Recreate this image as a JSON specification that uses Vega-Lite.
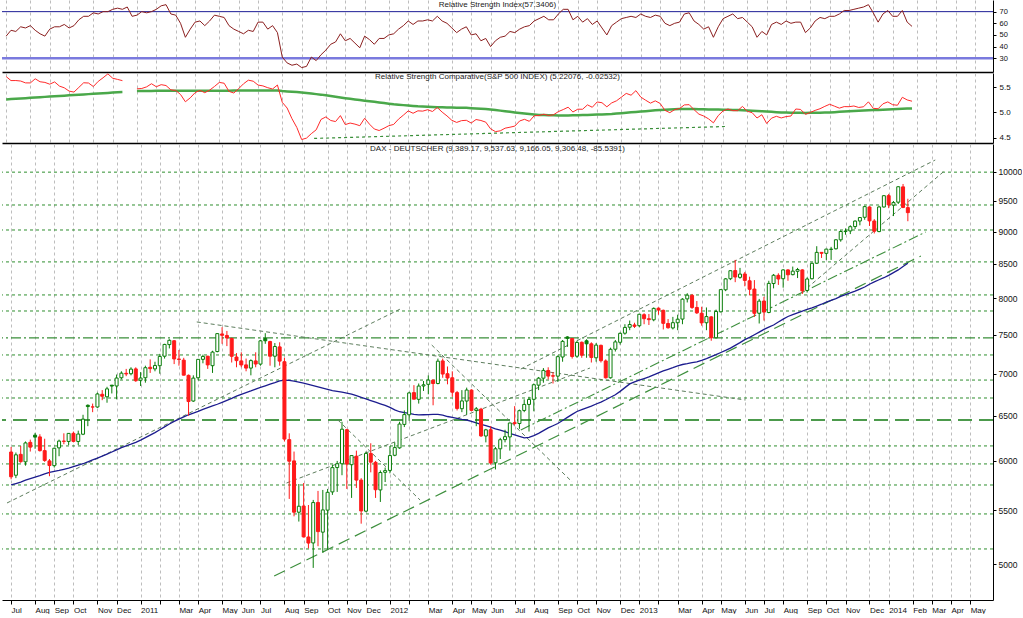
{
"$schema": "https://vega.github.io/schema/vega-lite/v6.json",
"padding": 0,
"spacing": 1,
"bounds": "flush",
"background": "white",
"config": {
 "view": {"stroke": null},
 "font": "Liberation Sans",
 "axis": {"labelFont": "Liberation Sans", "labelFontSize": 8.5, "labelColor": "#111", "domainColor": "#000", "tickColor": "#000", "labelOverlap": false, "tickCount": 1000},
 "axisX": {"labelFontSize": 8},
 "title": {"fontSize": 8, "fontWeight": "normal", "color": "#222", "font": "Liberation Sans", "anchor": "middle", "offset": -9}
},
"datasets": {
 "w": [
{"d":"2010-07-02","o":6095,"h":6150,"l":5808,"c":5834,"ma":5750,"rsi":49,"rs":5.705,"rsm":5.255},
{"d":"2010-07-09","o":5850,"h":6090,"l":5820,"c":6065,"ma":5765,"rsi":54,"rs":5.626,"rsm":5.262},
{"d":"2010-07-16","o":6070,"h":6160,"l":5980,"c":5992,"ma":5780,"rsi":53,"rs":5.627,"rsm":5.268},
{"d":"2010-07-23","o":5990,"h":6210,"l":5950,"c":6194,"ma":5800,"rsi":57,"rs":5.617,"rsm":5.274},
{"d":"2010-07-30","o":6200,"h":6230,"l":6100,"c":6148,"ma":5815,"rsi":56,"rs":5.581,"rsm":5.28},
{"d":"2010-08-06","o":6280,"h":6305,"l":6130,"c":6258,"ma":5830,"rsi":58,"rs":5.58,"rsm":5.287},
{"d":"2010-08-13","o":6260,"h":6290,"l":6100,"c":6110,"ma":5845,"rsi":54,"rs":5.661,"rsm":5.293},
{"d":"2010-08-20","o":6110,"h":6240,"l":5990,"c":6005,"ma":5865,"rsi":51,"rs":5.603,"rsm":5.3},
{"d":"2010-08-27","o":6000,"h":6020,"l":5840,"c":5951,"ma":5880,"rsi":49,"rs":5.59,"rsm":5.306},
{"d":"2010-09-03","o":5950,"h":6140,"l":5930,"c":6136,"ma":5890,"rsi":55,"rs":5.555,"rsm":5.312},
{"d":"2010-09-10","o":6140,"h":6230,"l":6050,"c":6214,"ma":5900,"rsi":57,"rs":5.6,"rsm":5.318},
{"d":"2010-09-17","o":6214,"h":6300,"l":6180,"c":6211,"ma":5912,"rsi":57,"rs":5.518,"rsm":5.324},
{"d":"2010-09-24","o":6210,"h":6300,"l":6170,"c":6299,"ma":5925,"rsi":59,"rs":5.484,"rsm":5.33},
{"d":"2010-10-01","o":6300,"h":6320,"l":6200,"c":6211,"ma":5940,"rsi":56,"rs":5.419,"rsm":5.336},
{"d":"2010-10-08","o":6210,"h":6330,"l":6170,"c":6292,"ma":5955,"rsi":58,"rs":5.4,"rsm":5.342},
{"d":"2010-10-15","o":6290,"h":6510,"l":6280,"c":6460,"ma":5970,"rsi":63,"rs":5.492,"rsm":5.348},
{"d":"2010-10-22","o":6620,"h":6630,"l":6380,"c":6605,"ma":5990,"rsi":66,"rs":5.583,"rsm":5.354},
{"d":"2010-10-29","o":6600,"h":6640,"l":6540,"c":6601,"ma":6010,"rsi":66,"rs":5.578,"rsm":5.36},
{"d":"2010-11-05","o":6600,"h":6770,"l":6590,"c":6754,"ma":6030,"rsi":69,"rs":5.509,"rsm":5.366},
{"d":"2010-11-12","o":6750,"h":6800,"l":6680,"c":6727,"ma":6050,"rsi":68,"rs":5.61,"rsm":5.372},
{"d":"2010-11-19","o":6720,"h":6840,"l":6650,"c":6815,"ma":6072,"rsi":70,"rs":5.681,"rsm":5.378},
{"d":"2010-11-26","o":6860,"h":6860,"l":6760,"c":6849,"ma":6095,"rsi":70,"rs":5.758,"rsm":5.384},
{"d":"2010-12-03","o":6850,"h":6990,"l":6690,"c":6947,"ma":6118,"rsi":72,"rs":5.672,"rsm":5.39},
{"d":"2010-12-10","o":6950,"h":7030,"l":6930,"c":7007,"ma":6142,"rsi":73,"rs":5.649,"rsm":5.396},
{"d":"2010-12-17","o":7005,"h":7060,"l":6970,"c":6997,"ma":6162,"rsi":72,"rs":5.625,"rsm":5.4},
{"d":"2010-12-24","o":7000,"h":7080,"l":6980,"c":7057,"ma":6180,"rsi":74,"rs":null,"rsm":null},
{"d":"2010-12-31","o":7060,"h":7080,"l":6900,"c":6914,"ma":6200,"rsi":66,"rs":null,"rsm":null},
{"d":"2011-01-07","o":6920,"h":7020,"l":6850,"c":6947,"ma":6225,"rsi":67,"rs":5.464,"rsm":5.42},
{"d":"2011-01-14","o":6950,"h":7100,"l":6890,"c":7075,"ma":6252,"rsi":70,"rs":5.471,"rsm":5.421},
{"d":"2011-01-21","o":7080,"h":7180,"l":7010,"c":7063,"ma":6280,"rsi":69,"rs":5.503,"rsm":5.422},
{"d":"2011-01-28","o":7060,"h":7150,"l":7030,"c":7102,"ma":6308,"rsi":70,"rs":5.564,"rsm":5.423},
{"d":"2011-02-04","o":7100,"h":7250,"l":7000,"c":7217,"ma":6340,"rsi":72,"rs":5.505,"rsm":5.424},
{"d":"2011-02-11","o":7220,"h":7380,"l":7190,"c":7372,"ma":6372,"rsi":75,"rs":5.546,"rsm":5.425},
{"d":"2011-02-18","o":7370,"h":7440,"l":7320,"c":7426,"ma":6405,"rsi":76,"rs":5.529,"rsm":5.426},
{"d":"2011-02-25","o":7420,"h":7430,"l":7120,"c":7185,"ma":6435,"rsi":68,"rs":5.444,"rsm":5.427},
{"d":"2011-03-04","o":7185,"h":7300,"l":7100,"c":7178,"ma":6460,"rsi":67,"rs":5.433,"rsm":5.428},
{"d":"2011-03-11","o":7170,"h":7200,"l":6980,"c":6982,"ma":6485,"rsi":60,"rs":5.353,"rsm":5.428},
{"d":"2011-03-18","o":6980,"h":6990,"l":6500,"c":6664,"ma":6510,"rsi":48,"rs":5.21,"rsm":5.428},
{"d":"2011-03-25","o":6670,"h":6980,"l":6660,"c":6946,"ma":6530,"rsi":55,"rs":5.287,"rsm":5.427},
{"d":"2011-04-01","o":6950,"h":7180,"l":6920,"c":7180,"ma":6550,"rsi":61,"rs":5.389,"rsm":5.426},
{"d":"2011-04-08","o":7180,"h":7240,"l":7130,"c":7217,"ma":6572,"rsi":62,"rs":5.434,"rsm":5.425},
{"d":"2011-04-15","o":7220,"h":7225,"l":7060,"c":7110,"ma":6592,"rsi":58,"rs":5.388,"rsm":5.424},
{"d":"2011-04-22","o":7100,"h":7290,"l":7010,"c":7273,"ma":6612,"rsi":62,"rs":5.438,"rsm":5.424},
{"d":"2011-04-29","o":7280,"h":7520,"l":7270,"c":7514,"ma":6632,"rsi":67,"rs":5.51,"rsm":5.425},
{"d":"2011-05-06","o":7510,"h":7600,"l":7380,"c":7492,"ma":6655,"rsi":66,"rs":5.59,"rsm":5.426},
{"d":"2011-05-13","o":7490,"h":7550,"l":7350,"c":7457,"ma":6678,"rsi":65,"rs":5.574,"rsm":5.427},
{"d":"2011-05-20","o":7450,"h":7460,"l":7140,"c":7219,"ma":6702,"rsi":58,"rs":5.414,"rsm":5.428},
{"d":"2011-05-27","o":7210,"h":7260,"l":7080,"c":7164,"ma":6728,"rsi":55,"rs":5.382,"rsm":5.429},
{"d":"2011-06-03","o":7160,"h":7270,"l":7080,"c":7109,"ma":6750,"rsi":53,"rs":5.468,"rsm":5.43},
{"d":"2011-06-10","o":7110,"h":7190,"l":7030,"c":7070,"ma":6770,"rsi":51,"rs":5.563,"rsm":5.43},
{"d":"2011-06-17","o":7070,"h":7180,"l":6980,"c":7164,"ma":6790,"rsi":54,"rs":5.634,"rsm":5.43},
{"d":"2011-06-24","o":7160,"h":7270,"l":7080,"c":7121,"ma":6812,"rsi":53,"rs":5.614,"rsm":5.43},
{"d":"2011-07-01","o":7120,"h":7430,"l":7100,"c":7419,"ma":6832,"rsi":61,"rs":5.538,"rsm":5.43},
{"d":"2011-07-08","o":7450,"h":7520,"l":7380,"c":7420,"ma":6852,"rsi":61,"rs":5.522,"rsm":5.43},
{"d":"2011-07-15","o":7410,"h":7420,"l":7100,"c":7220,"ma":6872,"rsi":55,"rs":5.486,"rsm":5.43},
{"d":"2011-07-22","o":7220,"h":7390,"l":7080,"c":7345,"ma":6890,"rsi":58,"rs":5.461,"rsm":5.43},
{"d":"2011-07-29","o":7340,"h":7400,"l":7100,"c":7158,"ma":6912,"rsi":52,"rs":5.539,"rsm":5.43},
{"d":"2011-08-05","o":7150,"h":7200,"l":6210,"c":6236,"ma":6922,"rsi":31,"rs":5.199,"rsm":5.42},
{"d":"2011-08-12","o":6230,"h":6300,"l":5610,"c":5997,"ma":6918,"rsi":26,"rs":5.087,"rsm":5.413},
{"d":"2011-08-19","o":6000,"h":6100,"l":5440,"c":5480,"ma":6908,"rsi":24,"rs":4.878,"rsm":5.407},
{"d":"2011-08-26","o":5480,"h":5760,"l":5390,"c":5538,"ma":6898,"rsi":25,"rs":4.706,"rsm":5.4},
{"d":"2011-09-02","o":5540,"h":5770,"l":5240,"c":5246,"ma":6885,"rsi":22,"rs":4.468,"rsm":5.39},
{"d":"2011-09-09","o":5245,"h":5550,"l":5140,"c":5189,"ma":6870,"rsi":23,"rs":4.496,"rsm":5.38},
{"d":"2011-09-16","o":5190,"h":5600,"l":4966,"c":5574,"ma":6855,"rsi":31,"rs":4.584,"rsm":5.37},
{"d":"2011-09-23","o":5575,"h":5690,"l":5160,"c":5295,"ma":6840,"rsi":28,"rs":4.659,"rsm":5.36},
{"d":"2011-09-30","o":5290,"h":5700,"l":5100,"c":5502,"ma":6825,"rsi":33,"rs":4.863,"rsm":5.35},
{"d":"2011-10-07","o":5500,"h":5710,"l":5130,"c":5676,"ma":6810,"rsi":37,"rs":4.912,"rsm":5.336},
{"d":"2011-10-14","o":5680,"h":5960,"l":5650,"c":5929,"ma":6795,"rsi":42,"rs":4.842,"rsm":5.322},
{"d":"2011-10-21","o":5930,"h":6000,"l":5680,"c":5970,"ma":6785,"rsi":44,"rs":4.821,"rsm":5.308},
{"d":"2011-10-28","o":5970,"h":6430,"l":5850,"c":6346,"ma":6775,"rsi":51,"rs":4.938,"rsm":5.294},
{"d":"2011-11-04","o":6340,"h":6350,"l":5710,"c":5966,"ma":6765,"rsi":45,"rs":4.761,"rsm":5.28},
{"d":"2011-11-11","o":5960,"h":6050,"l":5620,"c":6057,"ma":6752,"rsi":47,"rs":4.792,"rsm":5.268},
{"d":"2011-11-18","o":6050,"h":6110,"l":5720,"c":5800,"ma":6733,"rsi":43,"rs":4.771,"rsm":5.256},
{"d":"2011-11-25","o":5800,"h":5820,"l":5370,"c":5492,"ma":6714,"rsi":39,"rs":4.74,"rsm":5.244},
{"d":"2011-12-02","o":5490,"h":6100,"l":5480,"c":6080,"ma":6695,"rsi":49,"rs":4.886,"rsm":5.232},
{"d":"2011-12-09","o":6080,"h":6190,"l":5880,"c":5987,"ma":6676,"rsi":46,"rs":4.77,"rsm":5.22},
{"d":"2011-12-16","o":5985,"h":6000,"l":5620,"c":5702,"ma":6656,"rsi":42,"rs":4.675,"rsm":5.208},
{"d":"2011-12-23","o":5700,"h":5900,"l":5580,"c":5878,"ma":6637,"rsi":47,"rs":4.645,"rsm":5.196},
{"d":"2011-12-30","o":5880,"h":5930,"l":5780,"c":5898,"ma":6618,"rsi":47,"rs":4.69,"rsm":5.184},
{"d":"2012-01-06","o":5900,"h":6160,"l":5870,"c":6057,"ma":6595,"rsi":50,"rs":4.74,"rsm":5.172},
{"d":"2012-01-13","o":6060,"h":6200,"l":6050,"c":6143,"ma":6567,"rsi":51,"rs":4.765,"rsm":5.16},
{"d":"2012-01-20","o":6140,"h":6430,"l":6130,"c":6404,"ma":6545,"rsi":55,"rs":4.869,"rsm":5.152},
{"d":"2012-01-27","o":6400,"h":6560,"l":6370,"c":6512,"ma":6535,"rsi":58,"rs":4.947,"rsm":5.144},
{"d":"2012-02-03","o":6510,"h":6780,"l":6440,"c":6766,"ma":6525,"rsi":62,"rs":5.031,"rsm":5.136},
{"d":"2012-02-10","o":6770,"h":6860,"l":6690,"c":6692,"ma":6515,"rsi":59,"rs":4.984,"rsm":5.128},
{"d":"2012-02-17","o":6690,"h":6880,"l":6640,"c":6849,"ma":6508,"rsi":62,"rs":5.032,"rsm":5.12},
{"d":"2012-02-24","o":6850,"h":6910,"l":6790,"c":6864,"ma":6510,"rsi":62,"rs":5.026,"rsm":5.116},
{"d":"2012-03-02","o":6870,"h":6980,"l":6750,"c":6922,"ma":6512,"rsi":63,"rs":5.054,"rsm":5.112},
{"d":"2012-03-09","o":6920,"h":6930,"l":6620,"c":6880,"ma":6514,"rsi":62,"rs":5.019,"rsm":5.108},
{"d":"2012-03-16","o":6880,"h":7190,"l":6870,"c":7157,"ma":6515,"rsi":66,"rs":5.097,"rsm":5.104},
{"d":"2012-03-23","o":7160,"h":7190,"l":6950,"c":6996,"ma":6505,"rsi":62,"rs":5.007,"rsm":5.1},
{"d":"2012-03-30","o":7000,"h":7090,"l":6870,"c":6947,"ma":6490,"rsi":60,"rs":4.932,"rsm":5.098},
{"d":"2012-04-06","o":6950,"h":7030,"l":6720,"c":6775,"ma":6480,"rsi":56,"rs":4.846,"rsm":5.096},
{"d":"2012-04-13","o":6770,"h":6790,"l":6560,"c":6583,"ma":6468,"rsi":52,"rs":4.804,"rsm":5.094},
{"d":"2012-04-20","o":6580,"h":6800,"l":6540,"c":6671,"ma":6458,"rsi":55,"rs":4.839,"rsm":5.092},
{"d":"2012-04-27","o":6670,"h":6830,"l":6510,"c":6801,"ma":6450,"rsi":57,"rs":4.846,"rsm":5.09},
{"d":"2012-05-04","o":6800,"h":6810,"l":6550,"c":6561,"ma":6435,"rsi":50,"rs":4.792,"rsm":5.084},
{"d":"2012-05-11","o":6560,"h":6600,"l":6380,"c":6579,"ma":6418,"rsi":51,"rs":4.861,"rsm":5.078},
{"d":"2012-05-18","o":6575,"h":6590,"l":6260,"c":6271,"ma":6400,"rsi":45,"rs":4.842,"rsm":5.072},
{"d":"2012-05-25","o":6270,"h":6350,"l":6200,"c":6339,"ma":6385,"rsi":47,"rs":4.81,"rsm":5.066},
{"d":"2012-06-01","o":6340,"h":6380,"l":5960,"c":5978,"ma":6368,"rsi":40,"rs":4.678,"rsm":5.06},
{"d":"2012-06-08","o":5980,"h":6150,"l":5910,"c":6130,"ma":6350,"rsi":45,"rs":4.624,"rsm":5.048},
{"d":"2012-06-15","o":6130,"h":6250,"l":6020,"c":6229,"ma":6335,"rsi":48,"rs":4.639,"rsm":5.036},
{"d":"2012-06-22","o":6230,"h":6340,"l":6200,"c":6263,"ma":6318,"rsi":49,"rs":4.691,"rsm":5.024},
{"d":"2012-06-29","o":6260,"h":6420,"l":6110,"c":6416,"ma":6300,"rsi":53,"rs":4.71,"rsm":5.012},
{"d":"2012-07-06","o":6420,"h":6610,"l":6390,"c":6410,"ma":6282,"rsi":52,"rs":4.732,"rsm":5.0},
{"d":"2012-07-13","o":6410,"h":6570,"l":6350,"c":6557,"ma":6265,"rsi":55,"rs":4.833,"rsm":4.99},
{"d":"2012-07-20","o":6560,"h":6690,"l":6540,"c":6630,"ma":6250,"rsi":57,"rs":4.865,"rsm":4.98},
{"d":"2012-07-27","o":6630,"h":6720,"l":6320,"c":6689,"ma":6255,"rsi":58,"rs":4.826,"rsm":4.97},
{"d":"2012-08-03","o":6690,"h":6880,"l":6550,"c":6865,"ma":6275,"rsi":62,"rs":4.935,"rsm":4.96},
{"d":"2012-08-10","o":6860,"h":6960,"l":6800,"c":6945,"ma":6300,"rsi":64,"rs":4.94,"rsm":4.95},
{"d":"2012-08-17","o":6945,"h":7070,"l":6890,"c":7041,"ma":6330,"rsi":66,"rs":4.965,"rsm":4.948},
{"d":"2012-08-24","o":7040,"h":7080,"l":6930,"c":6971,"ma":6360,"rsi":63,"rs":4.94,"rsm":4.946},
{"d":"2012-08-31","o":6975,"h":7020,"l":6880,"c":6970,"ma":6385,"rsi":63,"rs":4.955,"rsm":4.944},
{"d":"2012-09-07","o":6970,"h":7230,"l":6900,"c":7214,"ma":6410,"rsi":68,"rs":5.017,"rsm":4.942},
{"d":"2012-09-14","o":7210,"h":7430,"l":7150,"c":7412,"ma":6445,"rsi":72,"rs":5.057,"rsm":4.94},
{"d":"2012-09-21","o":7470,"h":7480,"l":7340,"c":7451,"ma":6480,"rsi":72,"rs":5.103,"rsm":4.942},
{"d":"2012-09-28","o":7450,"h":7455,"l":7190,"c":7216,"ma":6515,"rsi":63,"rs":5.009,"rsm":4.944},
{"d":"2012-10-05","o":7220,"h":7420,"l":7200,"c":7398,"ma":6548,"rsi":66,"rs":5.064,"rsm":4.946},
{"d":"2012-10-12","o":7400,"h":7410,"l":7200,"c":7233,"ma":6570,"rsi":61,"rs":5.063,"rsm":4.948},
{"d":"2012-10-19","o":7420,"h":7440,"l":7200,"c":7380,"ma":6590,"rsi":64,"rs":5.149,"rsm":4.95},
{"d":"2012-10-26","o":7380,"h":7400,"l":7140,"c":7204,"ma":6610,"rsi":59,"rs":5.102,"rsm":4.954},
{"d":"2012-11-02","o":7200,"h":7390,"l":7150,"c":7363,"ma":6635,"rsi":62,"rs":5.206,"rsm":4.958},
{"d":"2012-11-09","o":7360,"h":7370,"l":7140,"c":7163,"ma":6658,"rsi":56,"rs":5.191,"rsm":4.962},
{"d":"2012-11-16","o":7160,"h":7180,"l":6940,"c":6950,"ma":6685,"rsi":50,"rs":5.111,"rsm":4.966},
{"d":"2012-11-23","o":6950,"h":7330,"l":6940,"c":7309,"ma":6715,"rsi":58,"rs":5.187,"rsm":4.97},
{"d":"2012-11-30","o":7310,"h":7430,"l":7280,"c":7405,"ma":6745,"rsi":61,"rs":5.229,"rsm":4.978},
{"d":"2012-12-07","o":7400,"h":7530,"l":7370,"c":7518,"ma":6785,"rsi":64,"rs":5.301,"rsm":4.986},
{"d":"2012-12-14","o":7520,"h":7640,"l":7500,"c":7597,"ma":6830,"rsi":65,"rs":5.374,"rsm":4.994},
{"d":"2012-12-21","o":7600,"h":7690,"l":7560,"c":7636,"ma":6875,"rsi":66,"rs":5.339,"rsm":5.002},
{"d":"2012-12-28","o":7630,"h":7660,"l":7590,"c":7612,"ma":6900,"rsi":65,"rs":5.428,"rsm":5.01},
{"d":"2013-01-04","o":7620,"h":7780,"l":7600,"c":7776,"ma":6920,"rsi":68,"rs":5.302,"rsm":5.018},
{"d":"2013-01-11","o":7770,"h":7790,"l":7640,"c":7715,"ma":6940,"rsi":66,"rs":5.241,"rsm":5.026},
{"d":"2013-01-18","o":7715,"h":7780,"l":7630,"c":7702,"ma":6960,"rsi":65,"rs":5.183,"rsm":5.034},
{"d":"2013-01-25","o":7700,"h":7870,"l":7680,"c":7857,"ma":6985,"rsi":67,"rs":5.228,"rsm":5.042},
{"d":"2013-02-01","o":7860,"h":7870,"l":7770,"c":7834,"ma":7010,"rsi":66,"rs":5.177,"rsm":5.05},
{"d":"2013-02-08","o":7830,"h":7840,"l":7570,"c":7652,"ma":7035,"rsi":60,"rs":5.041,"rsm":5.054},
{"d":"2013-02-15","o":7650,"h":7710,"l":7580,"c":7593,"ma":7055,"rsi":58,"rs":4.996,"rsm":5.058},
{"d":"2013-02-22","o":7590,"h":7740,"l":7570,"c":7661,"ma":7075,"rsi":60,"rs":5.055,"rsm":5.062},
{"d":"2013-03-01","o":7660,"h":7770,"l":7560,"c":7708,"ma":7098,"rsi":61,"rs":5.077,"rsm":5.066},
{"d":"2013-03-08","o":7710,"h":8000,"l":7640,"c":7986,"ma":7115,"rsi":68,"rs":5.148,"rsm":5.07},
{"d":"2013-03-15","o":7990,"h":8070,"l":7940,"c":8043,"ma":7125,"rsi":69,"rs":5.153,"rsm":5.068},
{"d":"2013-03-22","o":8040,"h":8060,"l":7850,"c":7870,"ma":7138,"rsi":62,"rs":5.055,"rsm":5.066},
{"d":"2013-03-29","o":7870,"h":7960,"l":7780,"c":7795,"ma":7148,"rsi":59,"rs":4.967,"rsm":5.064},
{"d":"2013-04-05","o":7790,"h":7880,"l":7620,"c":7658,"ma":7168,"rsi":55,"rs":4.93,"rsm":5.062},
{"d":"2013-04-12","o":7660,"h":7870,"l":7560,"c":7744,"ma":7190,"rsi":57,"rs":4.874,"rsm":5.06},
{"d":"2013-04-19","o":7740,"h":7750,"l":7420,"c":7459,"ma":7215,"rsi":48,"rs":4.796,"rsm":5.058},
{"d":"2013-04-26","o":7460,"h":7840,"l":7450,"c":7814,"ma":7240,"rsi":57,"rs":4.939,"rsm":5.056},
{"d":"2013-05-03","o":7810,"h":8130,"l":7800,"c":8122,"ma":7268,"rsi":64,"rs":5.031,"rsm":5.054},
{"d":"2013-05-10","o":8120,"h":8290,"l":8100,"c":8278,"ma":7295,"rsi":66,"rs":5.067,"rsm":5.052},
{"d":"2013-05-17","o":8280,"h":8400,"l":8260,"c":8398,"ma":7325,"rsi":68,"rs":5.036,"rsm":5.05},
{"d":"2013-05-24","o":8400,"h":8560,"l":8230,"c":8305,"ma":7360,"rsi":64,"rs":5.035,"rsm":5.046},
{"d":"2013-05-31","o":8300,"h":8440,"l":8280,"c":8348,"ma":7395,"rsi":65,"rs":5.119,"rsm":5.042},
{"d":"2013-06-07","o":8350,"h":8380,"l":8170,"c":8255,"ma":7435,"rsi":61,"rs":5.023,"rsm":5.038},
{"d":"2013-06-14","o":8250,"h":8310,"l":8040,"c":8127,"ma":7465,"rsi":57,"rs":4.996,"rsm":5.034},
{"d":"2013-06-21","o":8130,"h":8260,"l":7740,"c":7789,"ma":7500,"rsi":48,"rs":4.891,"rsm":5.03},
{"d":"2013-06-28","o":7790,"h":7990,"l":7650,"c":7959,"ma":7535,"rsi":53,"rs":4.955,"rsm":5.024},
{"d":"2013-07-05","o":7960,"h":8020,"l":7690,"c":7806,"ma":7570,"rsi":50,"rs":4.783,"rsm":5.018},
{"d":"2013-07-12","o":7800,"h":8250,"l":7790,"c":8212,"ma":7600,"rsi":59,"rs":4.888,"rsm":5.012},
{"d":"2013-07-19","o":8210,"h":8350,"l":8140,"c":8331,"ma":7630,"rsi":61,"rs":4.924,"rsm":5.006},
{"d":"2013-07-26","o":8330,"h":8360,"l":8190,"c":8276,"ma":7670,"rsi":59,"rs":4.892,"rsm":5.0},
{"d":"2013-08-02","o":8280,"h":8420,"l":8150,"c":8410,"ma":7710,"rsi":62,"rs":4.919,"rsm":4.998},
{"d":"2013-08-09","o":8410,"h":8420,"l":8250,"c":8338,"ma":7745,"rsi":60,"rs":4.93,"rsm":4.996},
{"d":"2013-08-16","o":8340,"h":8460,"l":8330,"c":8392,"ma":7770,"rsi":61,"rs":5.068,"rsm":4.994},
{"d":"2013-08-23","o":8390,"h":8440,"l":8290,"c":8416,"ma":7795,"rsi":61,"rs":5.059,"rsm":4.992},
{"d":"2013-08-30","o":8410,"h":8420,"l":8060,"c":8104,"ma":7820,"rsi":52,"rs":4.963,"rsm":4.99},
{"d":"2013-09-06","o":8110,"h":8300,"l":8080,"c":8276,"ma":7845,"rsi":56,"rs":5.0,"rsm":4.992},
{"d":"2013-09-13","o":8280,"h":8520,"l":8270,"c":8509,"ma":7865,"rsi":62,"rs":5.041,"rsm":4.994},
{"d":"2013-09-20","o":8510,"h":8770,"l":8500,"c":8675,"ma":7890,"rsi":65,"rs":5.073,"rsm":4.996},
{"d":"2013-09-27","o":8675,"h":8680,"l":8590,"c":8661,"ma":7915,"rsi":64,"rs":5.12,"rsm":4.998},
{"d":"2013-10-04","o":8660,"h":8730,"l":8560,"c":8725,"ma":7945,"rsi":66,"rs":5.161,"rsm":5.0},
{"d":"2013-10-11","o":8720,"h":8760,"l":8560,"c":8725,"ma":7970,"rsi":66,"rs":5.123,"rsm":5.006},
{"d":"2013-10-18","o":8730,"h":8880,"l":8720,"c":8870,"ma":7995,"rsi":68,"rs":5.085,"rsm":5.012},
{"d":"2013-10-25","o":8870,"h":9020,"l":8840,"c":9001,"ma":8025,"rsi":71,"rs":5.115,"rsm":5.018},
{"d":"2013-11-01","o":9000,"h":9050,"l":8950,"c":9008,"ma":8050,"rsi":71,"rs":5.113,"rsm":5.024},
{"d":"2013-11-08","o":9010,"h":9100,"l":8960,"c":9078,"ma":8075,"rsi":72,"rs":5.127,"rsm":5.03},
{"d":"2013-11-15","o":9080,"h":9180,"l":9040,"c":9168,"ma":8100,"rsi":73,"rs":5.098,"rsm":5.034},
{"d":"2013-11-22","o":9170,"h":9230,"l":9100,"c":9226,"ma":8130,"rsi":74,"rs":5.112,"rsm":5.038},
{"d":"2013-11-29","o":9230,"h":9420,"l":9190,"c":9406,"ma":8160,"rsi":76,"rs":5.209,"rsm":5.042},
{"d":"2013-12-06","o":9400,"h":9410,"l":9090,"c":9172,"ma":8200,"rsi":69,"rs":5.081,"rsm":5.046},
{"d":"2013-12-13","o":9170,"h":9200,"l":8970,"c":9006,"ma":8235,"rsi":61,"rs":5.073,"rsm":5.05},
{"d":"2013-12-20","o":9000,"h":9420,"l":8990,"c":9400,"ma":8265,"rsi":68,"rs":5.17,"rsm":5.054},
{"d":"2013-12-27","o":9400,"h":9600,"l":9390,"c":9589,"ma":8295,"rsi":71,"rs":5.207,"rsm":5.059},
{"d":"2014-01-03","o":9590,"h":9620,"l":9380,"c":9435,"ma":8330,"rsi":66,"rs":5.152,"rsm":5.063},
{"d":"2014-01-10","o":9430,"h":9500,"l":9250,"c":9473,"ma":8370,"rsi":66,"rs":5.142,"rsm":5.067},
{"d":"2014-01-17","o":9480,"h":9750,"l":9450,"c":9742,"ma":8410,"rsi":71,"rs":5.298,"rsm":5.071},
{"d":"2014-01-24","o":9740,"h":9790,"l":9380,"c":9392,"ma":8460,"rsi":61,"rs":5.246,"rsm":5.076},
{"d":"2014-01-31","o":9389.17,"h":9537.63,"l":9166.05,"c":9306.48,"ma":8510,"rsi":57.34,"rs":5.221,"rsm":5.08}
 ],
 "lv": [{"v":9997},{"v":9433},{"v":9025},{"v":8530},{"v":8046},{"v":7821},{"v":7236},{"v":6922},{"v":6706},{"v":6161},{"v":5968},{"v":5750},{"v":5463},{"v":5135}],
 "lvd": [{"v":7457}],
 "lvl": [{"v":6450}],
 "tr": [
  {"id":"t1","d":"2010-06-26","v":5570},{"id":"t1","d":"2012-01-24","v":7862},
  {"id":"t2","d":"2011-03-30","v":7671},{"id":"t2","d":"2013-06-08","v":6682},
  {"id":"t3","d":"2011-08-08","v":5770},{"id":"t3","d":"2012-10-24","v":7071},
  {"id":"t6","d":"2012-07-15","v":7058},{"id":"t6","d":"2014-03-12","v":10214},
  {"id":"t7","d":"2013-09-06","v":8146},{"id":"t7","d":"2014-03-27","v":10035},
  {"id":"t9","d":"2012-03-07","v":7364},{"id":"t9","d":"2012-09-28","v":5781},
  {"id":"t10","d":"2011-10-22","v":6450},{"id":"t10","d":"2012-02-19","v":5599}
 ],
 "trl": [{"d":"2011-07-21","v":4895},{"d":"2014-02-19","v":8620}],
 "trd": [{"d":"2012-07-15","v":6337},{"d":"2014-02-26","v":8993}],
 "rst": [{"d":"2011-09-20","v":4.49},{"d":"2013-05-09","v":4.725}]
},
"vconcat": [
 {
  "width": 991, "height": 72,
  "title": {"text": "Relative Strength Index(57.3406)"},
  "layer": [
   {"data": {"values": [{}]}, "mark": {"type": "rule", "color": "#1e1e96", "strokeWidth": 1},
    "encoding": {"y": {"datum": 70, "type": "quantitative", "scale": {"domain": [18.2, 80], "nice": false, "zero": false}}}},
   {"data": {"values": [{}]}, "mark": {"type": "rule", "color": "#7a7ade", "strokeWidth": 2.5},
    "encoding": {"y": {"datum": 30, "type": "quantitative"}}},
   {"data": {"name": "w"}, "mark": {"type": "line", "color": "#8b1f1f", "strokeWidth": 1},
    "encoding": {
     "x": {"field": "d", "type": "temporal", "title": null,
      "scale": {"type": "utc", "domain": [{"year":2010,"month":6,"date":26,"utc":true},{"year":2014,"month":5,"date":28,"utc":true}]},
      "axis": {"tickCount": 1000, "values": [{"year":2010,"month":7,"date":2,"utc":true},{"year":2010,"month":8,"date":6,"utc":true},{"year":2010,"month":9,"date":3,"utc":true},{"year":2010,"month":10,"date":1,"utc":true},{"year":2010,"month":11,"date":5,"utc":true},{"year":2010,"month":12,"date":3,"utc":true},{"year":2011,"month":1,"date":7,"utc":true},{"year":2011,"month":2,"date":4,"utc":true},{"year":2011,"month":3,"date":4,"utc":true},{"year":2011,"month":4,"date":1,"utc":true},{"year":2011,"month":5,"date":6,"utc":true},{"year":2011,"month":6,"date":3,"utc":true},{"year":2011,"month":7,"date":1,"utc":true},{"year":2011,"month":8,"date":5,"utc":true},{"year":2011,"month":9,"date":2,"utc":true},{"year":2011,"month":10,"date":7,"utc":true},{"year":2011,"month":11,"date":4,"utc":true},{"year":2011,"month":12,"date":2,"utc":true},{"year":2012,"month":1,"date":6,"utc":true},{"year":2012,"month":2,"date":3,"utc":true},{"year":2012,"month":3,"date":2,"utc":true},{"year":2012,"month":4,"date":6,"utc":true},{"year":2012,"month":5,"date":4,"utc":true},{"year":2012,"month":6,"date":1,"utc":true},{"year":2012,"month":7,"date":6,"utc":true},{"year":2012,"month":8,"date":3,"utc":true},{"year":2012,"month":9,"date":7,"utc":true},{"year":2012,"month":10,"date":5,"utc":true},{"year":2012,"month":11,"date":2,"utc":true},{"year":2012,"month":12,"date":7,"utc":true},{"year":2013,"month":1,"date":4,"utc":true},{"year":2013,"month":2,"date":1,"utc":true},{"year":2013,"month":3,"date":1,"utc":true},{"year":2013,"month":4,"date":5,"utc":true},{"year":2013,"month":5,"date":3,"utc":true},{"year":2013,"month":6,"date":7,"utc":true},{"year":2013,"month":7,"date":5,"utc":true},{"year":2013,"month":8,"date":2,"utc":true},{"year":2013,"month":9,"date":6,"utc":true},{"year":2013,"month":10,"date":4,"utc":true},{"year":2013,"month":11,"date":1,"utc":true},{"year":2013,"month":12,"date":6,"utc":true},{"year":2014,"month":1,"date":3,"utc":true},{"year":2014,"month":2,"date":7,"utc":true},{"year":2014,"month":3,"date":7,"utc":true},{"year":2014,"month":4,"date":4,"utc":true},{"year":2014,"month":5,"date":2,"utc":true}],
       "grid": true, "gridColor": "#bdbdbd", "gridDash": [3, 3], "labels": false, "ticks": false, "domain": true, "domainWidth": 1.5}},
     "y": {"field": "rsi", "type": "quantitative", "title": null,
      "axis": {"orient": "right", "tickCount": 1000, "values": [30, 40, 50, 60, 70], "format": "d", "tickSize": 3, "labelPadding": 3, "labelFontSize": 7.5, "grid": false}}
    }}
  ]
 },
 {
  "width": 991, "height": 70,
  "title": {"text": "Relative Strength Comparative(S&P 500 INDEX) (5.22076, -0.02532)"},
  "layer": [
   {"data": {"name": "rst"}, "mark": {"type": "line", "color": "#3a8f3a", "strokeDash": [3, 3], "strokeWidth": 1.2},
    "encoding": {"x": {"field": "d", "type": "temporal"}, "y": {"field": "v", "type": "quantitative", "scale": {"domain": [4.4, 5.775], "nice": false, "zero": false}}}},
   {"data": {"name": "w"}, "mark": {"type": "line", "color": "#4aa84a", "strokeWidth": 2.5, "invalid": "break-paths-show-domains"},
    "encoding": {"x": {"field": "d", "type": "temporal"}, "y": {"field": "rsm", "type": "quantitative"}}},
   {"data": {"name": "w"}, "mark": {"type": "line", "color": "#ff2a2a", "strokeWidth": 1, "invalid": "break-paths-show-domains"},
    "encoding": {
     "x": {"field": "d", "type": "temporal", "title": null,
      "scale": {"type": "utc", "domain": [{"year":2010,"month":6,"date":26,"utc":true},{"year":2014,"month":5,"date":28,"utc":true}]},
      "axis": {"tickCount": 1000, "values": [{"year":2010,"month":7,"date":2,"utc":true},{"year":2010,"month":8,"date":6,"utc":true},{"year":2010,"month":9,"date":3,"utc":true},{"year":2010,"month":10,"date":1,"utc":true},{"year":2010,"month":11,"date":5,"utc":true},{"year":2010,"month":12,"date":3,"utc":true},{"year":2011,"month":1,"date":7,"utc":true},{"year":2011,"month":2,"date":4,"utc":true},{"year":2011,"month":3,"date":4,"utc":true},{"year":2011,"month":4,"date":1,"utc":true},{"year":2011,"month":5,"date":6,"utc":true},{"year":2011,"month":6,"date":3,"utc":true},{"year":2011,"month":7,"date":1,"utc":true},{"year":2011,"month":8,"date":5,"utc":true},{"year":2011,"month":9,"date":2,"utc":true},{"year":2011,"month":10,"date":7,"utc":true},{"year":2011,"month":11,"date":4,"utc":true},{"year":2011,"month":12,"date":2,"utc":true},{"year":2012,"month":1,"date":6,"utc":true},{"year":2012,"month":2,"date":3,"utc":true},{"year":2012,"month":3,"date":2,"utc":true},{"year":2012,"month":4,"date":6,"utc":true},{"year":2012,"month":5,"date":4,"utc":true},{"year":2012,"month":6,"date":1,"utc":true},{"year":2012,"month":7,"date":6,"utc":true},{"year":2012,"month":8,"date":3,"utc":true},{"year":2012,"month":9,"date":7,"utc":true},{"year":2012,"month":10,"date":5,"utc":true},{"year":2012,"month":11,"date":2,"utc":true},{"year":2012,"month":12,"date":7,"utc":true},{"year":2013,"month":1,"date":4,"utc":true},{"year":2013,"month":2,"date":1,"utc":true},{"year":2013,"month":3,"date":1,"utc":true},{"year":2013,"month":4,"date":5,"utc":true},{"year":2013,"month":5,"date":3,"utc":true},{"year":2013,"month":6,"date":7,"utc":true},{"year":2013,"month":7,"date":5,"utc":true},{"year":2013,"month":8,"date":2,"utc":true},{"year":2013,"month":9,"date":6,"utc":true},{"year":2013,"month":10,"date":4,"utc":true},{"year":2013,"month":11,"date":1,"utc":true},{"year":2013,"month":12,"date":6,"utc":true},{"year":2014,"month":1,"date":3,"utc":true},{"year":2014,"month":2,"date":7,"utc":true},{"year":2014,"month":3,"date":7,"utc":true},{"year":2014,"month":4,"date":4,"utc":true},{"year":2014,"month":5,"date":2,"utc":true}],
       "grid": true, "gridColor": "#bdbdbd", "gridDash": [3, 3], "labels": false, "ticks": false, "domain": true, "domainWidth": 1.5}},
     "y": {"field": "rs", "type": "quantitative", "title": null,
      "axis": {"orient": "right", "tickCount": 1000, "values": [4.5, 5.0, 5.5], "format": ".1f", "tickSize": 3, "labelPadding": 3, "labelFontSize": 8, "grid": false}}
    }}
  ]
 },
 {
  "width": 991, "height": 456,
  "title": {"text": "DAX - DEUTSCHER (9,389.17, 9,537.63, 9,166.05, 9,306.48, -85.5391)"},
  "layer": [
   {"data": {"name": "lv"}, "mark": {"type": "rule", "color": "#2f8f2f", "strokeDash": [3, 3], "strokeWidth": 1},
    "encoding": {"y": {"field": "v", "type": "quantitative", "scale": {"type": "log", "domain": [4692, 10507], "nice": false, "zero": false}}}},
   {"data": {"name": "lvd"}, "mark": {"type": "rule", "color": "#3a8f3a", "strokeDash": [10, 3, 2, 3], "strokeWidth": 1.3},
    "encoding": {"y": {"field": "v", "type": "quantitative"}}},
   {"data": {"name": "lvl"}, "mark": {"type": "rule", "color": "#4c9a4c", "strokeDash": [14, 7], "strokeWidth": 2},
    "encoding": {"y": {"field": "v", "type": "quantitative"}}},
   {"data": {"name": "tr"}, "mark": {"type": "line", "color": "#5d7d5d", "strokeDash": [4, 3], "strokeWidth": 1, "clip": true},
    "encoding": {"x": {"field": "d", "type": "temporal"}, "y": {"field": "v", "type": "quantitative"}, "detail": {"field": "id"}}},
   {"data": {"name": "trl"}, "mark": {"type": "line", "color": "#3d8f3d", "strokeDash": [12, 6], "strokeWidth": 1.2, "clip": true},
    "encoding": {"x": {"field": "d", "type": "temporal"}, "y": {"field": "v", "type": "quantitative"}}},
   {"data": {"name": "trd"}, "mark": {"type": "line", "color": "#3d8f3d", "strokeDash": [10, 3, 2, 3], "strokeWidth": 1.1, "clip": true},
    "encoding": {"x": {"field": "d", "type": "temporal"}, "y": {"field": "v", "type": "quantitative"}}},
   {"data": {"name": "w"}, "mark": {"type": "line", "color": "#1c1c8e", "strokeWidth": 1.3},
    "encoding": {"x": {"field": "d", "type": "temporal"}, "y": {"field": "ma", "type": "quantitative"}}},
   {"data": {"name": "w"},
    "transform": [{"window": [{"op": "lag", "field": "c", "as": "pc"}], "sort": [{"field": "d", "order": "ascending"}]}],
    "mark": {"type": "rule", "strokeWidth": 1},
    "encoding": {
     "x": {"field": "d", "type": "temporal"},
     "y": {"field": "l", "type": "quantitative"},
     "y2": {"field": "h"},
     "color": {"condition": {"test": "datum.pc == null ? datum.c < datum.o : datum.c < datum.pc", "value": "#ff1a1a"}, "value": "#0a7d0a"}
    }},
   {"data": {"name": "w"},
    "transform": [{"window": [{"op": "lag", "field": "c", "as": "pc"}], "sort": [{"field": "d", "order": "ascending"}]}],
    "mark": {"type": "bar", "size": 3, "strokeWidth": 1},
    "encoding": {
     "x": {"field": "d", "type": "temporal", "title": null,
      "scale": {"type": "utc", "domain": [{"year":2010,"month":6,"date":26,"utc":true},{"year":2014,"month":5,"date":28,"utc":true}]},
      "axis": {"tickCount": 1000, "values": [{"year":2010,"month":7,"date":2,"utc":true},{"year":2010,"month":8,"date":6,"utc":true},{"year":2010,"month":9,"date":3,"utc":true},{"year":2010,"month":10,"date":1,"utc":true},{"year":2010,"month":11,"date":5,"utc":true},{"year":2010,"month":12,"date":3,"utc":true},{"year":2011,"month":1,"date":7,"utc":true},{"year":2011,"month":2,"date":4,"utc":true},{"year":2011,"month":3,"date":4,"utc":true},{"year":2011,"month":4,"date":1,"utc":true},{"year":2011,"month":5,"date":6,"utc":true},{"year":2011,"month":6,"date":3,"utc":true},{"year":2011,"month":7,"date":1,"utc":true},{"year":2011,"month":8,"date":5,"utc":true},{"year":2011,"month":9,"date":2,"utc":true},{"year":2011,"month":10,"date":7,"utc":true},{"year":2011,"month":11,"date":4,"utc":true},{"year":2011,"month":12,"date":2,"utc":true},{"year":2012,"month":1,"date":6,"utc":true},{"year":2012,"month":2,"date":3,"utc":true},{"year":2012,"month":3,"date":2,"utc":true},{"year":2012,"month":4,"date":6,"utc":true},{"year":2012,"month":5,"date":4,"utc":true},{"year":2012,"month":6,"date":1,"utc":true},{"year":2012,"month":7,"date":6,"utc":true},{"year":2012,"month":8,"date":3,"utc":true},{"year":2012,"month":9,"date":7,"utc":true},{"year":2012,"month":10,"date":5,"utc":true},{"year":2012,"month":11,"date":2,"utc":true},{"year":2012,"month":12,"date":7,"utc":true},{"year":2013,"month":1,"date":4,"utc":true},{"year":2013,"month":2,"date":1,"utc":true},{"year":2013,"month":3,"date":1,"utc":true},{"year":2013,"month":4,"date":5,"utc":true},{"year":2013,"month":5,"date":3,"utc":true},{"year":2013,"month":6,"date":7,"utc":true},{"year":2013,"month":7,"date":5,"utc":true},{"year":2013,"month":8,"date":2,"utc":true},{"year":2013,"month":9,"date":6,"utc":true},{"year":2013,"month":10,"date":4,"utc":true},{"year":2013,"month":11,"date":1,"utc":true},{"year":2013,"month":12,"date":6,"utc":true},{"year":2014,"month":1,"date":3,"utc":true},{"year":2014,"month":2,"date":7,"utc":true},{"year":2014,"month":3,"date":7,"utc":true},{"year":2014,"month":4,"date":4,"utc":true},{"year":2014,"month":5,"date":2,"utc":true}],
       "grid": true, "gridColor": "#bdbdbd", "gridDash": [3, 3], "tickSize": 4, "labelAlign": "left", "labelPadding": 2, "labelOverlap": false, "labelFlush": false, "labelFontSize": 8,
       "labelExpr": "utcmonth(datum.value) == 0 ? utcFormat(datum.value, '%Y') : ((utcmonth(datum.value) == 1 && utcyear(datum.value) < 2014) ? '' : utcFormat(datum.value, '%b'))"}},
     "y": {"field": "o", "type": "quantitative", "title": null,
      "axis": {"orient": "right", "tickCount": 1000, "values": [5000, 5500, 6000, 6500, 7000, 7500, 8000, 8500, 9000, 9500, 10000], "format": "d", "tickSize": 3, "labelPadding": 2, "grid": false}},
     "y2": {"field": "c"},
     "fill": {"condition": [{"test": "datum.c > datum.o", "value": "#ffffff"}, {"test": "datum.pc == null ? datum.c < datum.o : datum.c < datum.pc", "value": "#ff1a1a"}], "value": "#0a7d0a"},
     "stroke": {"condition": {"test": "datum.pc == null ? datum.c < datum.o : datum.c < datum.pc", "value": "#ff1a1a"}, "value": "#0a7d0a"}
    }}
  ]
 }
]
}
